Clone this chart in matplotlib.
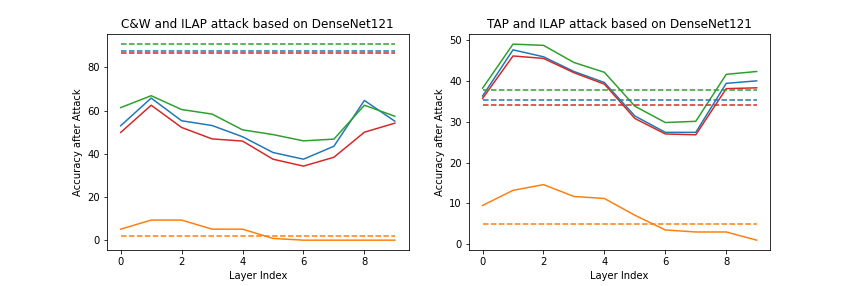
import matplotlib
matplotlib.use('Agg')
import matplotlib.pyplot as plt

layers = list(range(10))

# C&W + ILAP (left)
cw_blue = [53.0, 65.8, 55.3, 53.1, 47.9, 40.6, 37.5, 43.5, 64.7, 55.1]
cw_orange = [5.1, 9.3, 9.3, 5.1, 5.1, 0.8, 0.0, 0.0, 0.0, 0.0]
cw_green = [61.4, 66.9, 60.5, 58.4, 51.1, 48.9, 46.0, 46.8, 62.5, 57.4]
cw_red = [49.9, 62.5, 52.2, 46.9, 45.9, 37.5, 34.3, 38.4, 50.0, 54.2]
cw_base = [87.5, 2.0, 90.8, 86.8]  # blue, orange, green, red

# TAP + ILAP (right)
tap_blue = [36.3, 47.6, 45.9, 42.3, 39.6, 31.4, 27.4, 27.4, 39.4, 40.0]
tap_orange = [9.5, 13.2, 14.6, 11.7, 11.2, 7.1, 3.5, 3.0, 3.0, 1.0]
tap_green = [38.2, 49.0, 48.7, 44.5, 42.1, 33.8, 29.8, 30.1, 41.6, 42.3]
tap_red = [35.7, 46.1, 45.5, 42.0, 39.2, 30.8, 27.0, 26.8, 38.1, 38.3]
tap_base = [35.2, 4.9, 37.8, 34.2]

colors = ['tab:blue', 'tab:orange', 'tab:green', 'tab:red']

# original figure looks like a downscaled default-style plot, so shrink everything
k = 0.72
plt.rcParams.update({
    'font.size': 10 * k,
    'lines.linewidth': 1.5 * k,
    'axes.linewidth': 0.8 * k,
    'xtick.major.size': 3.5 * k,
    'ytick.major.size': 3.5 * k,
    'xtick.major.width': 0.8 * k,
    'ytick.major.width': 0.8 * k,
    'xtick.major.pad': 3.5 * k,
    'ytick.major.pad': 3.5 * k,
    'axes.titlepad': 6 * k,
    'axes.labelpad': 4 * k,
})

fig, (ax1, ax2) = plt.subplots(1, 2, figsize=(8.56, 2.86), dpi=100)
fig.subplots_adjust(left=0.125, right=0.9, bottom=0.126, top=0.88, wspace=0.2)

for ax, series, base, title in [
        (ax1, [cw_blue, cw_orange, cw_green, cw_red], cw_base, 'C&W and ILAP attack based on DenseNet121'),
        (ax2, [tap_blue, tap_orange, tap_green, tap_red], tap_base, 'TAP and ILAP attack based on DenseNet121')]:
    for s, c in zip(series, colors):
        ax.plot(layers, s, color=c)
    for b, c in zip(base, colors):
        ax.plot(layers, [b] * len(layers), color=c, linestyle='--')
    ax.set_title(title, fontsize=12 * k)
    ax.set_xlabel('Layer Index')
    ax.set_ylabel('Accuracy after Attack')
    ax.set_xticks([0, 2, 4, 6, 8])

fig.savefig('out.png', dpi=100)
